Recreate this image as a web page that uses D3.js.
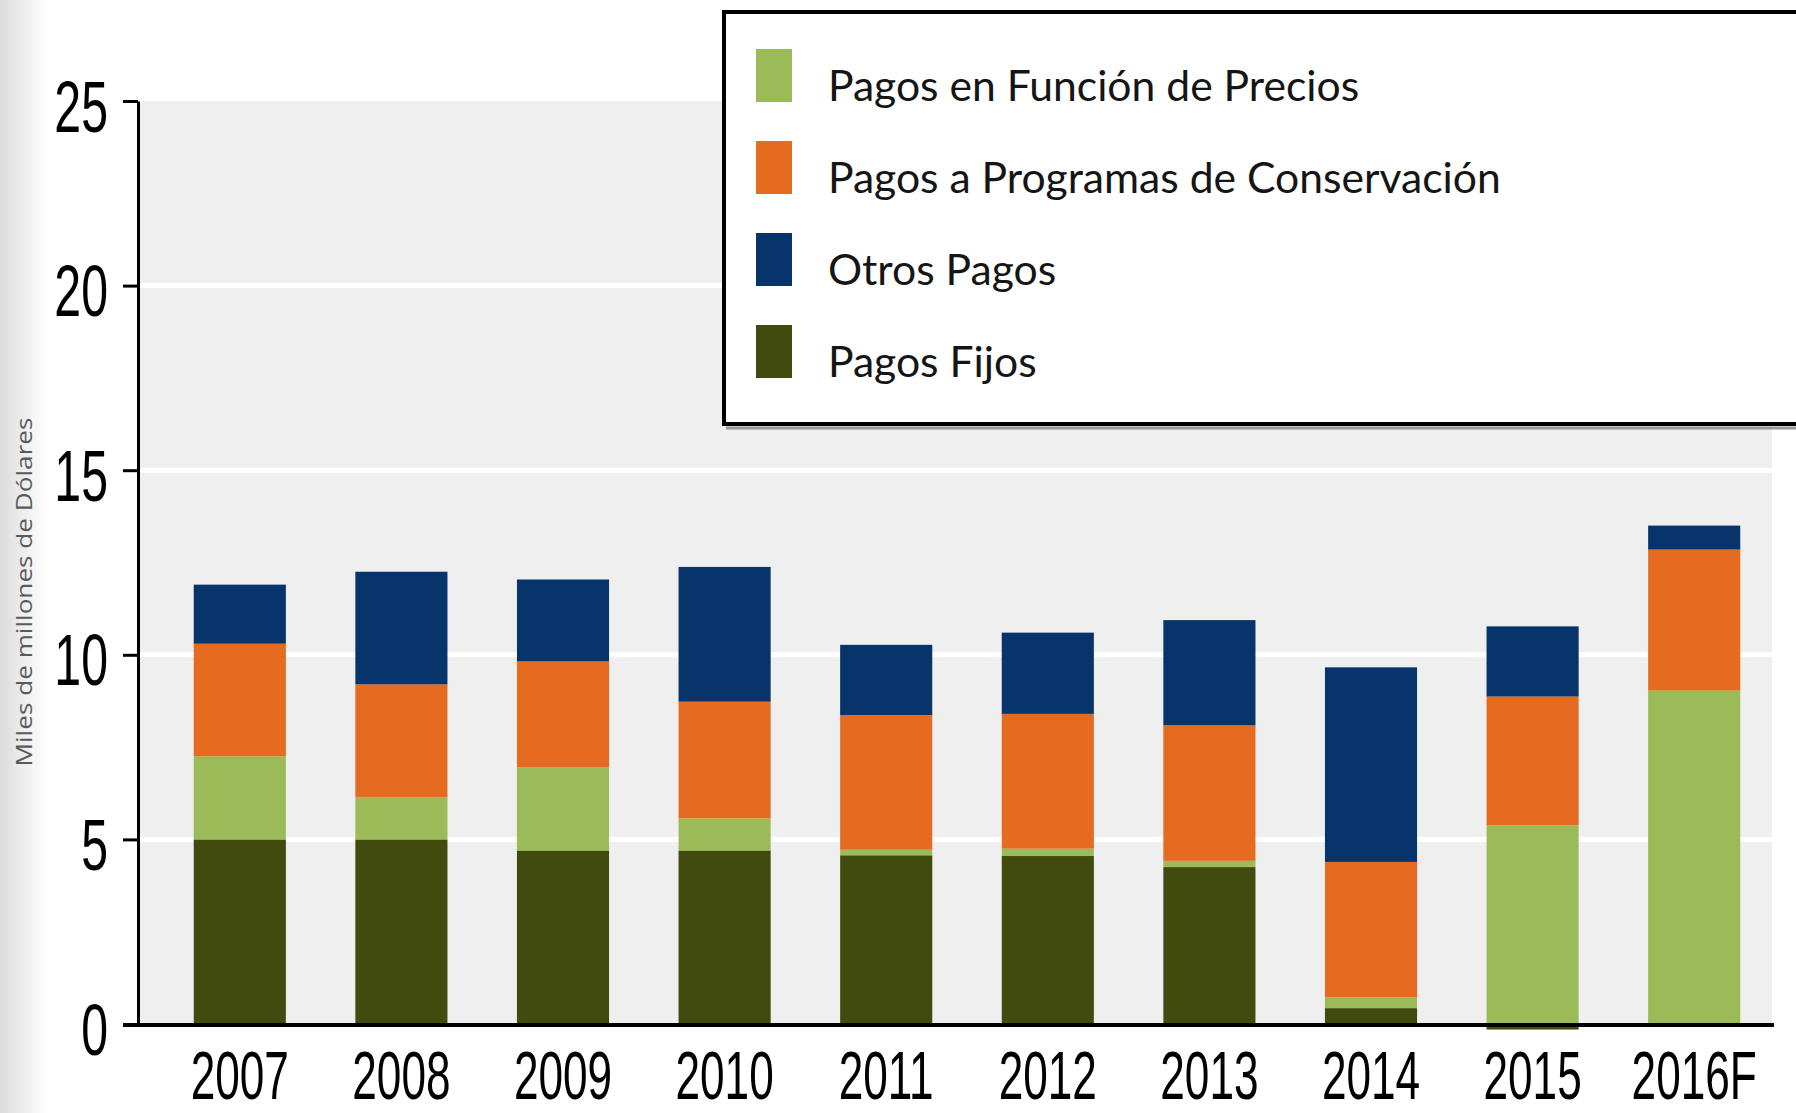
<!DOCTYPE html>
<html>
<head>
<meta charset="utf-8">
<script src="https://cdn.jsdelivr.net/npm/d3@7/dist/d3.min.js"></script>
<style>
  html, body { margin: 0; padding: 0; background: #ffffff; }
  svg { display: block; }
</style>
</head>
<body>
<svg id="chart" width="1796" height="1113"></svg>
<script>
// Agricultural support payments by type, billions of dollars
const years = ["2007", "2008", "2009", "2010", "2011", "2012", "2013", "2014", "2015", "2016F"];
const pagosFijos        = [5.00, 5.00, 4.70, 4.70, 4.57, 4.55, 4.25, 0.43, -0.15, 0.00];
const pagosPrecios      = [2.25, 1.15, 2.25, 0.87, 0.15, 0.20, 0.17, 0.30, 5.38, 9.03];
const pagosConservacion = [3.05, 3.05, 2.87, 3.16, 3.65, 3.65, 3.67, 3.66, 3.49, 3.82];
const otrosPagos        = [1.60, 3.05, 2.22, 3.65, 1.90, 2.20, 2.85, 5.27, 1.90, 0.65];
const yTicks = [0, 5, 10, 15, 20, 25];

const seriesKeys   = ["fijos", "precios", "conservacion", "otros"];
const seriesNames  = {
  precios: "Pagos en Función de Precios",
  conservacion: "Pagos a Programas de Conservación",
  otros: "Otros Pagos",
  fijos: "Pagos Fijos"
};
const seriesColors = {
  fijos: "#414b0d",
  precios: "#9bbb59",
  conservacion: "#e46b1f",
  otros: "#07346a"
};
const legendOrder = ["precios", "conservacion", "otros", "fijos"];

const rows = years.map((yr, i) => ({
  year: yr,
  fijos: pagosFijos[i],
  precios: pagosPrecios[i],
  conservacion: pagosConservacion[i],
  otros: otrosPagos[i]
}));

const svg = d3.select("#chart");

// soft grey edge on the left of the page
const defs = svg.append("defs");
const edge = defs.append("linearGradient").attr("id", "leftEdge")
  .attr("x1", 0).attr("x2", 1).attr("y1", 0).attr("y2", 0);
edge.append("stop").attr("offset", "0%").attr("stop-color", "#dcdcdc");
edge.append("stop").attr("offset", "100%").attr("stop-color", "#ffffff");
svg.append("rect").attr("x", 0).attr("y", 0).attr("width", 48).attr("height", 1113)
  .attr("fill", "url(#leftEdge)");

// plot geometry
const axisX = 138, plotRight = 1772;
const y = d3.scaleLinear().domain([0, 25]).range([1024, 101]);
const x = d3.scaleBand().domain(years).range([159, 1775])
  .paddingInner(0.43).paddingOuter(0.215);

// plot background and white gridlines
svg.append("rect")
  .attr("x", axisX).attr("y", y(25))
  .attr("width", plotRight - axisX).attr("height", y(0) - y(25))
  .attr("fill", "#efefef");
svg.append("g").selectAll("line")
  .data(yTicks.filter(t => t > 0 && t < 25))
  .join("line")
  .attr("x1", axisX).attr("x2", plotRight)
  .attr("y1", d => y(d)).attr("y2", d => y(d))
  .attr("stroke", "#ffffff").attr("stroke-width", 5);

// stacked bars
const stack = d3.stack().keys(seriesKeys).offset(d3.stackOffsetDiverging);
const layers = stack(rows);
svg.append("g").selectAll("g")
  .data(layers)
  .join("g")
  .attr("fill", d => seriesColors[d.key])
  .selectAll("rect")
  .data(d => d)
  .join("rect")
  .attr("x", d => x(d.data.year))
  .attr("width", x.bandwidth())
  .attr("y", d => y(Math.max(d[0], d[1])))
  .attr("height", d => Math.abs(y(d[0]) - y(d[1])));

// y axis
const yAxis = svg.append("g")
  .attr("transform", `translate(${axisX},0)`)
  .call(d3.axisLeft(y).tickValues(yTicks).tickSize(15).tickSizeOuter(0));
yAxis.select(".domain").attr("stroke", "#000").attr("stroke-width", 3);
yAxis.selectAll(".tick line").attr("stroke", "#000").attr("stroke-width", 3);
yAxis.selectAll(".tick text")
  .attr("x", null).attr("dy", null)
  .attr("transform", "translate(-30,30) scale(0.67,1)")
  .attr("text-anchor", "end")
  .attr("font-family", "'Liberation Sans', Arial, sans-serif")
  .attr("font-size", 72)
  .attr("fill", "#000");

// x axis
const xAxis = svg.append("g")
  .attr("transform", `translate(0,${y(0)})`)
  .call(d3.axisBottom(x).tickSize(0).tickSizeOuter(0));
xAxis.select(".domain").remove();
xAxis.selectAll(".tick text")
  .attr("y", null).attr("dy", null)
  .attr("transform", "translate(0,75) scale(0.64,1)")
  .attr("text-anchor", "middle")
  .attr("font-family", "'Liberation Sans', Arial, sans-serif")
  .attr("font-size", 69)
  .attr("fill", "#000");
svg.append("line")
  .attr("x1", 123).attr("x2", plotRight + 2)
  .attr("y1", y(0) + 1).attr("y2", y(0) + 1)
  .attr("stroke", "#000").attr("stroke-width", 4);

// y axis title
svg.append("text")
  .attr("transform", "translate(32,592) rotate(-90)")
  .attr("text-anchor", "middle")
  .attr("font-family", "'Open Sans', sans-serif")
  .attr("font-size", 21)
  .attr("fill", "#5a5a5a")
  .attr("textLength", 349)
  .attr("lengthAdjust", "spacingAndGlyphs")
  .text("Miles de millones de Dólares");

// legend
const legend = svg.append("g");
legend.append("line")
  .attr("x1", 726).attr("x2", 1796).attr("y1", 428).attr("y2", 428)
  .attr("stroke", "#9a9a9a").attr("stroke-width", 3);
legend.append("rect")
  .attr("x", 724).attr("y", 12).attr("width", 1200).attr("height", 412)
  .attr("fill", "#ffffff").attr("stroke", "#000").attr("stroke-width", 4);

const rowY = d3.scalePoint().domain(legendOrder).range([76, 352]);
const item = legend.selectAll("g.item")
  .data(legendOrder)
  .join("g").attr("class", "item")
  .attr("transform", d => `translate(0,${rowY(d)})`);
item.append("rect")
  .attr("x", 756).attr("y", -27).attr("width", 36).attr("height", 53)
  .attr("fill", d => seriesColors[d]);
const labels = item.append("text")
  .attr("font-family", "Lato, 'Open Sans', sans-serif")
  .attr("font-size", 42)
  .attr("fill", "#151515")
  .text(d => seriesNames[d]);
// condense the legend labels to the legend's column width
const longest = d3.max(labels.nodes(), n => n.getComputedTextLength());
const k = 673 / longest;
labels.attr("transform", `translate(828,25) scale(${k},1)`);
</script>
</body>
</html>
